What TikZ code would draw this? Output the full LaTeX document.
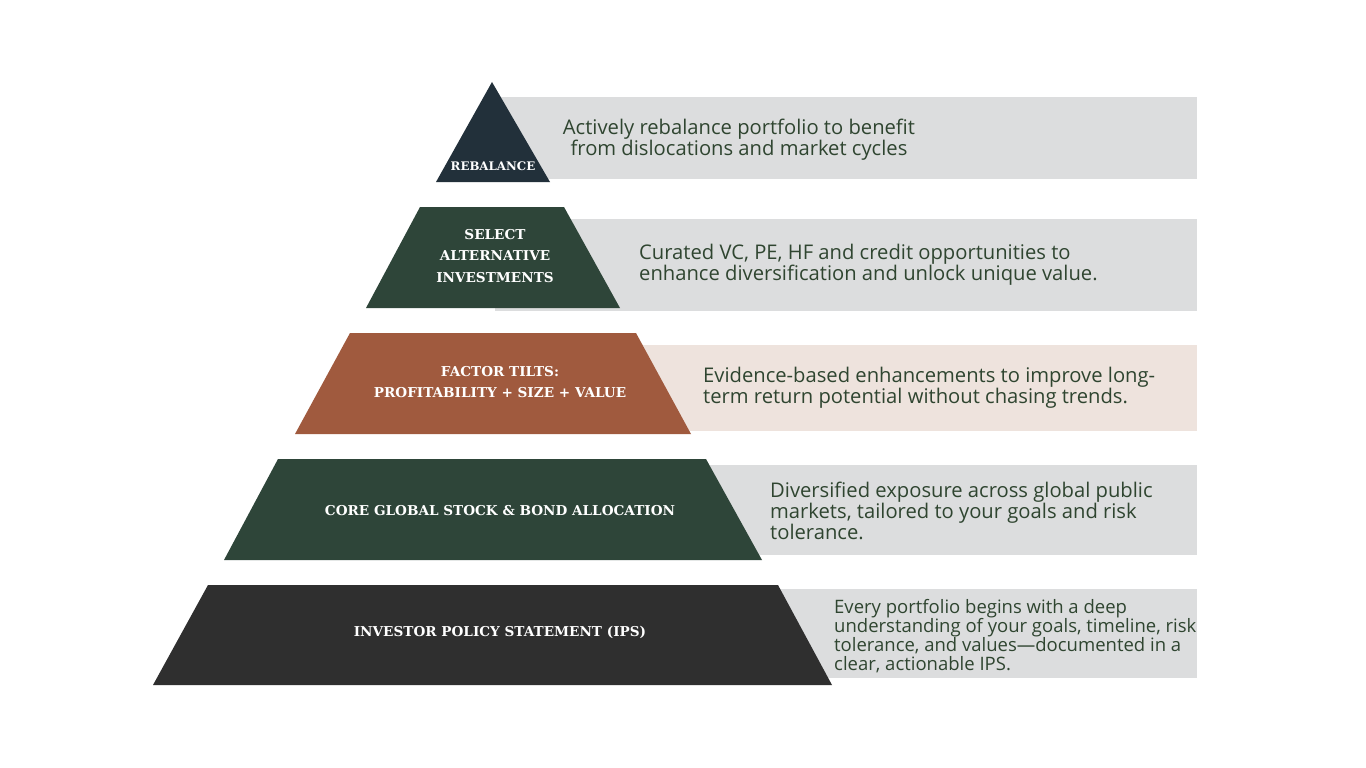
\documentclass[tikz,border=0pt]{standalone}
\usepackage{fontspec}
\setmainfont{Open Sans}
\newfontfamily\slabfont{DejaVu Serif}[BoldFont={DejaVu Serif Bold}]

\definecolor{panelgray}{HTML}{DCDDDE}
\definecolor{panelpink}{HTML}{EEE3DD}
\definecolor{navytier}{HTML}{22303A}
\definecolor{greentier}{HTML}{2E4539}
\definecolor{rusttier}{HTML}{A05A3E}
\definecolor{coaltier}{HTML}{2F2F2F}
\definecolor{blurbgreen}{HTML}{2F4530}

\tikzstyle{panel} = [fill=panelgray, draw=none]
\tikzstyle{tag} = [text=white, inner sep=0pt, align=center,
    font=\slabfont\bfseries\fontsize{13.6}{21.5}\selectfont]
\tikzstyle{blurb} = [text=blurbgreen, inner sep=0pt, anchor=west, align=left,
    font=\fontsize{20.2}{20}\selectfont]

\begin{document}
\begin{tikzpicture}[x=1pt, y=-1pt]
\useasboundingbox[fill=white] (0,0) rectangle (1366,768);

% tier 1: rebalance
\fill[panel] (500,97) rectangle (1197,179);
\fill[navytier] (492,82) -- (550,182) -- (436,182) -- cycle;
\node[tag, font=\slabfont\bfseries\fontsize{11.8}{12}\selectfont] (rebalance) at (493,166) {REBALANCE};
\node[blurb, anchor=center, align=center] (rebalancetxt) at (739,140)
    {Actively rebalance portfolio to benefit\\from dislocations and market cycles};

% tier 2: alternatives
\fill[panel] (495,219) rectangle (1197,311);
\fill[greentier] (420,207) -- (564,207) -- (620,308) -- (366,308) -- cycle;
\node[tag] (alternatives) at (495,256) {SELECT\\ALTERNATIVE\\INVESTMENTS};
\node[blurb] (alternativestxt) at (639,265)
    {Curated VC, PE, HF and credit opportunities to\\enhance diversification and unlock unique value.};

% tier 3: factor tilts
\fill[panelpink] (500,345) rectangle (1197,431);
\fill[rusttier] (350,333) -- (636,333) -- (691,434) -- (295,434) -- cycle;
\node[tag] (factors) at (500,382) {FACTOR TILTS:\\PROFITABILITY + SIZE + VALUE};
\node[blurb] (factorstxt) at (703,388)
    {Evidence-based enhancements to improve long-\\term return potential without chasing trends.};

% tier 4: core allocation
\fill[panel] (500,465) rectangle (1197,555);
\fill[greentier] (278,459) -- (706,459) -- (762,560) -- (224,560) -- cycle;
\node[tag] (core) at (500,511) {CORE GLOBAL STOCK \& BOND ALLOCATION};
\node[blurb] (coretxt) at (770,511)
    {Diversified exposure across global public\\markets, tailored to your goals and risk\\tolerance.};

% tier 5: policy statement
\fill[panel] (500,589) rectangle (1197,678);
\fill[coaltier] (208,585) -- (778,585) -- (832,685) -- (153,685) -- cycle;
\node[tag] (ips) at (500,632) {INVESTOR POLICY STATEMENT (IPS)};
\node[blurb, font=\fontsize{18.5}{18.8}\selectfont] (ipstxt) at (834,636)
    {Every portfolio begins with a deep\\understanding of your goals, timeline, risk\\tolerance, and values---documented in a\\clear, actionable IPS.};
\end{tikzpicture}
\end{document}
